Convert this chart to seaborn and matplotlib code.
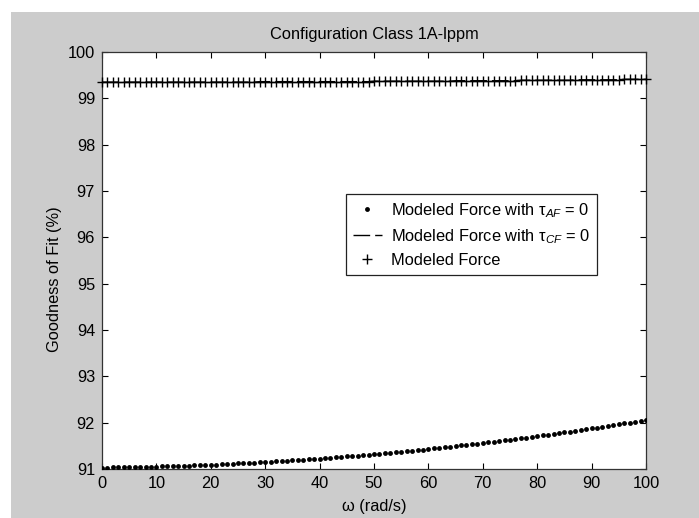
import matplotlib
matplotlib.use('Agg')
import matplotlib.pyplot as plt
import seaborn as sns
from matplotlib.patches import Rectangle

# ---------------- data ----------------
omega = list(range(0, 101))

tau_af_zero = [
    91.030, 91.031, 91.033, 91.035, 91.037, 91.039, 91.041, 91.044, 91.046, 91.049,
    91.052, 91.055, 91.059, 91.062, 91.066, 91.070, 91.074, 91.078, 91.083, 91.087,
    91.092, 91.097, 91.102, 91.108, 91.113, 91.119, 91.125, 91.131, 91.137, 91.143,
    91.150, 91.157, 91.164, 91.171, 91.178, 91.186, 91.193, 91.201, 91.209, 91.218,
    91.226, 91.235, 91.243, 91.252, 91.261, 91.271, 91.280, 91.290, 91.300, 91.310,
    91.320, 91.330, 91.341, 91.352, 91.363, 91.374, 91.385, 91.397, 91.408, 91.420,
    91.432, 91.444, 91.457, 91.469, 91.482, 91.495, 91.508, 91.521, 91.535, 91.548,
    91.562, 91.576, 91.590, 91.605, 91.619, 91.634, 91.649, 91.664, 91.679, 91.694,
    91.710, 91.726, 91.742, 91.758, 91.774, 91.791, 91.807, 91.824, 91.841, 91.859,
    91.876, 91.894, 91.911, 91.929, 91.947, 91.966, 91.984, 92.003, 92.022, 92.041,
    92.060,
]

tau_cf_zero = ([99.35] * 29 + [99.36] * 21 + [99.37] * 15 + [99.38] * 12 +
               [99.39] * 10 + [99.40] * 9 + [99.41] * 5)

modeled_force = ([99.35] * 29 + [99.36] * 21 + [99.37] * 15 + [99.38] * 12 +
                 [99.39] * 10 + [99.40] * 9 + [99.41] * 5)

x_ticks = list(range(0, 101, 10))
y_ticks = list(range(91, 101))

title = 'Configuration Class 1A-lppm'
x_label = 'ω (rad/s)'
y_label = 'Goodness of Fit (%)'
labels = ['Modeled Force with τ$_{AF}$ = 0',
          'Modeled Force with τ$_{CF}$ = 0',
          'Modeled Force']

# ---------------- style ----------------
sns.set_theme(style='ticks')
plt.rcParams['font.family'] = ['Liberation Sans', 'DejaVu Sans']
plt.rcParams['mathtext.fontset'] = 'custom'
plt.rcParams['mathtext.rm'] = 'Liberation Sans'
plt.rcParams['mathtext.it'] = 'Liberation Sans:italic'
plt.rcParams['mathtext.sf'] = 'Liberation Sans'

FS = 11.8

W, H = 699, 518
fig = plt.figure(figsize=(W / 100, H / 100), dpi=100, facecolor='white')
fig.patches.append(Rectangle((11 / W, 0), 1 - 11 / W, (H - 12) / H,
                             transform=fig.transFigure, facecolor='#cccccc',
                             edgecolor='none', zorder=-10))

ax_l, ax_r, ax_t, ax_b = 102, 646, 52, 469
ax = fig.add_axes([ax_l / W, (H - ax_b) / H, (ax_r - ax_l) / W, (ax_b - ax_t) / H])
ax.set_facecolor('white')

sns.lineplot(x=omega, y=tau_af_zero, ax=ax, color='black', linestyle='none',
             marker='o', markersize=3.5, markeredgewidth=0, markerfacecolor='black',
             label=labels[0], errorbar=None, zorder=3)
sns.lineplot(x=omega, y=tau_cf_zero, ax=ax, color='black', linestyle='--',
             linewidth=1.0, label=labels[1], errorbar=None, zorder=4)
ax.lines[-1].set_dashes((12, 3.6))
sns.lineplot(x=omega, y=modeled_force, ax=ax, color='black', linestyle='none',
             marker='+', markersize=6.5, markeredgewidth=1.0,
             markeredgecolor='black', markerfacecolor='black',
             label=labels[2], errorbar=None, zorder=5, clip_on=False)

ax.set_xlim(0, 100)
ax.set_ylim(91, 100)
ax.set_xticks(x_ticks)
ax.set_yticks(y_ticks)
ax.tick_params(direction='in', top=True, right=True, length=4, width=0.8,
               labelsize=FS, pad=5, colors='black')
for s in ax.spines.values():
    s.set_visible(True)
    s.set_color('#333333')
    s.set_linewidth(0.9)

ax.set_title(title, fontsize=FS, pad=9, color='black')
ax.set_xlabel(x_label, fontsize=FS, color='black')
ax.xaxis.set_label_coords(0.5, -38 / (ax_b - ax_t))
ax.xaxis.label.set_va('center')
ax.set_ylabel(y_label, fontsize=FS, color='black')
ax.yaxis.set_label_coords(-(ax_l - 55) / (ax_r - ax_l), (ax_b - 279) / (ax_b - ax_t))
ax.yaxis.label.set_va('center')

leg = ax.legend(loc='upper left',
                bbox_to_anchor=((346 - ax_l) / (ax_r - ax_l), (ax_b - 194) / (ax_b - ax_t)),
                frameon=True, fancybox=False, edgecolor='#222222', framealpha=1,
                fontsize=FS, handlelength=1.75, handletextpad=0.6, borderpad=0.42,
                labelspacing=0.45, borderaxespad=0, numpoints=1)
leg.get_frame().set_linewidth(0.9)
for t in leg.get_texts():
    t.set_color('black')

fig.savefig('out.png', dpi=100, facecolor=fig.get_facecolor())
